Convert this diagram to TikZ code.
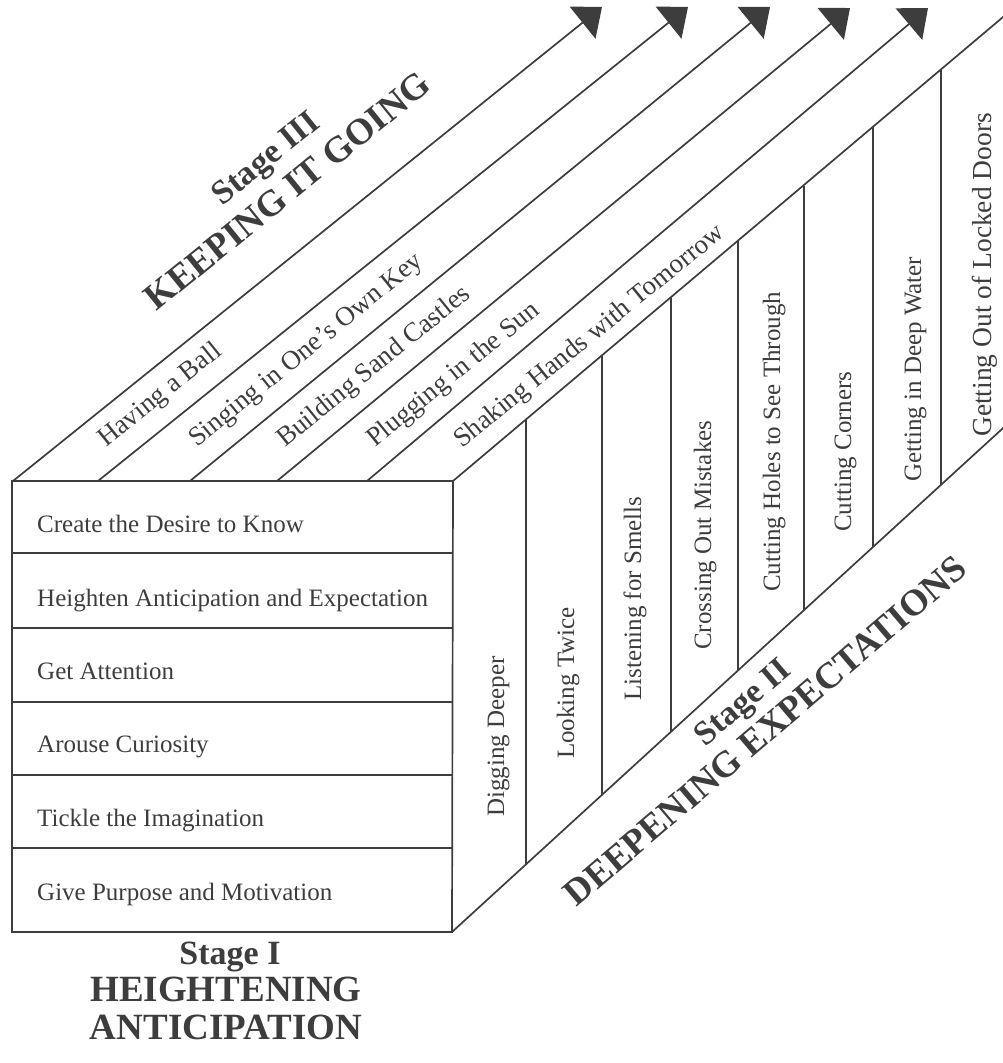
\documentclass[tikz,border=0pt]{standalone}
\usepackage{fontspec}
\setmainfont{Liberation Serif}
\usetikzlibrary{arrows.meta}
\definecolor{ink}{gray}{0.24}
\begin{document}
\begin{tikzpicture}[x=1pt,y=-1pt,
  edge/.style={line width=1.7pt,draw=ink,line cap=butt,line join=miter},
  tipline/.style={edge,-{Triangle[length=25pt,width=41pt]}},
  item/.style={font=\fontsize{25}{28}\selectfont,text=ink,inner sep=0pt},
  slant/.style={font=\fontsize{27}{30}\selectfont,text=ink,inner sep=0pt},
  stagelbl/.style={font=\bfseries\fontsize{34}{38}\selectfont,text=ink,inner sep=0pt},
  titlelbl/.style={font=\bfseries\fontsize{37}{40}\selectfont,text=ink,inner sep=0pt}]
\useasboundingbox (0,0) rectangle (1003,1063);
\clip (0,0) rectangle (1003,1063);

% front box
\coordinate (FTL) at (12,481);
\coordinate (FTR) at (453,481);
\coordinate (FBR) at (452,932);
\coordinate (FBL) at (12,932);
\draw[edge] (FTL) -- (FTR) -- (FBR) -- (FBL) -- cycle;
\foreach \y [count=\i] in {553,628,702,775,848}{
  \coordinate (rl\i) at (12,\y);
  \coordinate (rr\i) at (452,\y);
  \draw[edge] (rl\i) -- (rr\i);
}

% top face strips with arrows
\coordinate (S1) at (13,481);  \coordinate (T1) at (602,7);
\coordinate (S2) at (98,481);  \coordinate (T2) at (688,7);
\coordinate (S3) at (190,481); \coordinate (T3) at (770,7);
\coordinate (S4) at (277,481); \coordinate (T4) at (850,8);
\coordinate (S5) at (367,481); \coordinate (T5) at (928,8);
\foreach \i in {1,...,5}{ \draw[tipline] (S\i) -- (T\i); }
\coordinate (RTE) at (1060,-31);
\draw[edge] (FTR) -- (RTE);

% right face
\coordinate (RBE) at (1060,376);
\draw[edge] (FBR) -- (RBE);
\foreach \x/\t/\b [count=\i] in {526/420.3/864.4,602/356.2/794.9,671/297.9/731.8,738/241.3/670.6,804/185.5/610.2,873/127.3/547.2,941/69.8/485}{
  \coordinate (vt\i) at (\x,\t);
  \coordinate (vb\i) at (\x,\b);
  \draw[edge] (vt\i) -- (vb\i);
}

% front texts
\node[item,anchor=base west] (f1) at (37,532) {Create the Desire to Know};
\node[item,anchor=base west] (f2) at (37,606) {Heighten Anticipation and Expectation};
\node[item,anchor=base west] (f3) at (37,679) {Get Attention};
\node[item,anchor=base west] (f4) at (37,752) {Arouse Curiosity};
\node[item,anchor=base west] (f5) at (37,826) {Tickle the Imagination};
\node[item,anchor=base west] (f6) at (37,900) {Give Purpose and Motivation};

% right face texts
\node[item,anchor=base west,rotate=90] (d1) at (504,817) {Digging Deeper};
\node[item,anchor=base west,rotate=90] (d2) at (574,759) {Looking Twice};
\node[item,anchor=base west,rotate=90] (d3) at (641,701) {Listening for Smells};
\node[item,anchor=base west,rotate=90] (d4) at (711,650) {Crossing Out Mistakes};
\node[item,anchor=base west,rotate=90] (d5) at (780,592) {Cutting Holes to See Through};
\node[item,anchor=base west,rotate=90] (d6) at (851,532) {Cutting Corners};
\node[item,anchor=base west,rotate=90] (d7) at (921,482) {Getting in Deep Water};
\node[item,anchor=base west,rotate=90,font=\fontsize{27.5}{30}\selectfont] (d8) at (991,437) {Getting Out of Locked Doors};

% top face texts
\node[slant,anchor=base west,rotate=38.8] (k1) at (106,448) {Having a Ball};
\node[slant,anchor=base west,rotate=39.0] (k2) at (197,448) {Singing in One's Own Key};
\node[slant,anchor=base west,rotate=39.0] (k3) at (285,448) {Building Sand Castles};
\node[slant,anchor=base west,rotate=39.2] (k4) at (375,448) {Plugging in the Sun};
\node[slant,anchor=base west,rotate=39.0] (k5) at (462,449) {Shaking Hands with Tomorrow};

% stage titles
\node[stagelbl,anchor=base,rotate=39] (s3a) at (272,166) {Stage III};
\node[titlelbl,anchor=base,rotate=39] (s3b) at (295,200) {KEEPING IT GOING};
\node[stagelbl,anchor=base,rotate=40.5] (s2a) at (749,710) {Stage II};
\node[titlelbl,anchor=base,rotate=40.5] (s2b) at (773,740) {DEEPENING EXPECTATIONS};
\node[stagelbl,anchor=base] (s1a) at (230,964) {Stage I};
\node[titlelbl,anchor=base] (s1b) at (226,1001) {HEIGHTENING};
\node[titlelbl,anchor=base] (s1c) at (226,1039) {ANTICIPATION};
\end{tikzpicture}
\end{document}
